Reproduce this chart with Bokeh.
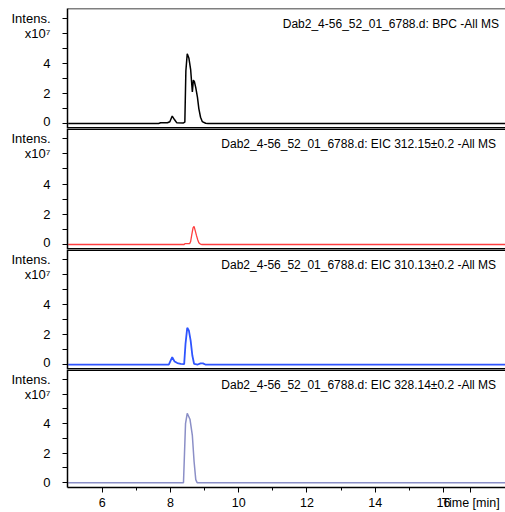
from bokeh.plotting import figure
from bokeh.layouts import column
from bokeh.models import FixedTicker, ColumnDataSource, Span
from bokeh.core.properties import value
from bokeh.embed import file_html
from bokeh.resources import INLINE

# ---- data (intensity in units of 1e7, time in min) ----
bpc_time = [5.0, 7.65, 7.71, 7.91, 7.98, 8.05, 8.12, 8.18, 8.38, 8.42, 8.45, 8.49, 8.54, 8.59,
            8.64, 8.67, 8.70, 8.74, 8.79, 8.83, 8.88, 8.93, 9.03, 9.10, 18.0]
bpc_int = [0.0, 0.0, 0.05, 0.05, 0.12, 0.5, 0.25, 0.06, 0.04, 0.1, 3.5, 4.65, 4.35, 3.6,
           2.1, 2.9, 2.8, 2.4, 1.75, 1.0, 0.42, 0.13, 0.02, 0.0, 0.0]

eic312_time = [5.0, 8.40, 8.43, 8.56, 8.59, 8.62, 8.66, 8.69, 8.72, 8.76, 8.80, 8.83, 8.88, 8.92, 18.0]
eic312_int = [0.0, 0.0, 0.06, 0.06, 0.2, 0.6, 1.1, 1.2, 0.95, 0.6, 0.3, 0.12, 0.02, 0.0, 0.0]

eic310_time = [5.0, 7.95, 8.05, 8.12, 8.20, 8.30, 8.40, 8.44, 8.49, 8.54, 8.59, 8.64, 8.69,
               8.80, 8.88, 8.95, 9.02, 18.0]
eic310_int = [0.0, 0.0, 0.5, 0.2, 0.1, 0.05, 0.03, 1.4, 2.45, 2.25, 1.6, 0.6, 0.05,
              0.0, 0.08, 0.08, 0.0, 0.0]

eic328_time = [5.0, 8.38, 8.41, 8.44, 8.49, 8.53, 8.57, 8.64, 8.69, 8.74, 8.78, 18.0]
eic328_int = [0.0, 0.0, 2.0, 4.0, 4.7, 4.5, 4.3, 3.2, 1.45, 0.2, 0.0, 0.0]

titles = [
    "Dab2_4-56_52_01_6788.d: BPC -All MS",
    "Dab2_4-56_52_01_6788.d: EIC 312.15\u00b10.2 -All MS",
    "Dab2_4-56_52_01_6788.d: EIC 310.13\u00b10.2 -All MS",
    "Dab2_4-56_52_01_6788.d: EIC 328.14\u00b10.2 -All MS",
]
title_x = [11.29, 9.49, 9.49, 9.49]
colors = ["#000000", "#ff3f3f", "#2f55ff", "#8b8fc7"]
widths = [1.5, 1.3, 1.8, 1.5]
y_ticks = [0, 1, 2, 3, 4, 5, 6, 7]
y_labels = {0: "0", 1: "", 2: "2", 3: "", 4: "4", 5: "", 6: "x10\u2077", 7: "Intens."}
x_ticks = [6, 8, 10, 12, 14, 16, 16.8]
x_minor = [7, 9, 11, 13, 15]
x_labels = {16.8: "Time [min]"}

series = [(bpc_time, bpc_int), (eic312_time, eic312_int),
          (eic310_time, eic310_int), (eic328_time, eic328_int)]

FONT = "Liberation Sans"
X_RANGE = (4.98, 17.82)
Y_RANGE = (-0.33, 7.67)
# (height, border_top, border_bottom) per panel
geom = [(128, 8, 0), (121, 0, 0), (120, 0, 0), (143, 0, 22)]

figs = []
for i, ((t, y), title) in enumerate(zip(series, titles)):
    last = i == 3
    h, top, bottom = geom[i]
    p = figure(width=505, height=h,
               x_range=X_RANGE, y_range=Y_RANGE,
               output_backend="svg", toolbar_location=None,
               x_axis_location="below" if last else None,
               min_border_left=67, min_border_right=0,
               min_border_top=top, min_border_bottom=bottom)
    p.grid.visible = False
    p.outline_line_color = None
    p.background_fill_color = "white"
    p.border_fill_color = "white"

    # frame edges (top / bottom) instead of a full outline
    p.add_layout(Span(location=Y_RANGE[1], dimension="width", line_color="black",
                      line_width=1.5 if i == 0 else 3))
    if not last:
        p.add_layout(Span(location=Y_RANGE[0], dimension="width", line_color="black",
                          line_width=3))

    src = ColumnDataSource(dict(t=t, y=y))
    p.line("t", "y", source=src, line_color=colors[i], line_width=widths[i])

    tsrc = ColumnDataSource(dict(x=[title_x[i]], y=[6.65], txt=[title]))
    p.text("x", "y", text="txt", source=tsrc, text_font=value(FONT),
           text_font_size="12px", text_align="left", text_baseline="alphabetic",
           text_color="black")

    ya = p.yaxis[0]
    ya.ticker = FixedTicker(ticks=y_ticks, minor_ticks=[])
    ya.major_label_overrides = y_labels
    ya.major_tick_out = 5
    ya.major_tick_in = 0
    ya.major_tick_line_width = 1
    ya.axis_line_width = 1.5
    ya.major_label_standoff = 12
    ya.major_label_text_font = FONT
    ya.major_label_text_font_size = "13px"
    ya.major_label_text_color = "black"

    if last:
        xa = p.xaxis[0]
        xa.ticker = FixedTicker(ticks=x_ticks, minor_ticks=x_minor)
        xa.major_label_overrides = x_labels
        xa.major_tick_out = 5
        xa.major_tick_in = 0
        xa.minor_tick_out = 3
        xa.minor_tick_in = 0
        xa.axis_line_width = 1.5
        xa.major_label_standoff = 3
        xa.major_label_text_font = FONT
        xa.major_label_text_font_size = "12.5px"
        xa.major_label_text_color = "black"
    figs.append(p)

layout = column(*figs, spacing=0)
open("out.html", "w").write(file_html(layout, INLINE))
